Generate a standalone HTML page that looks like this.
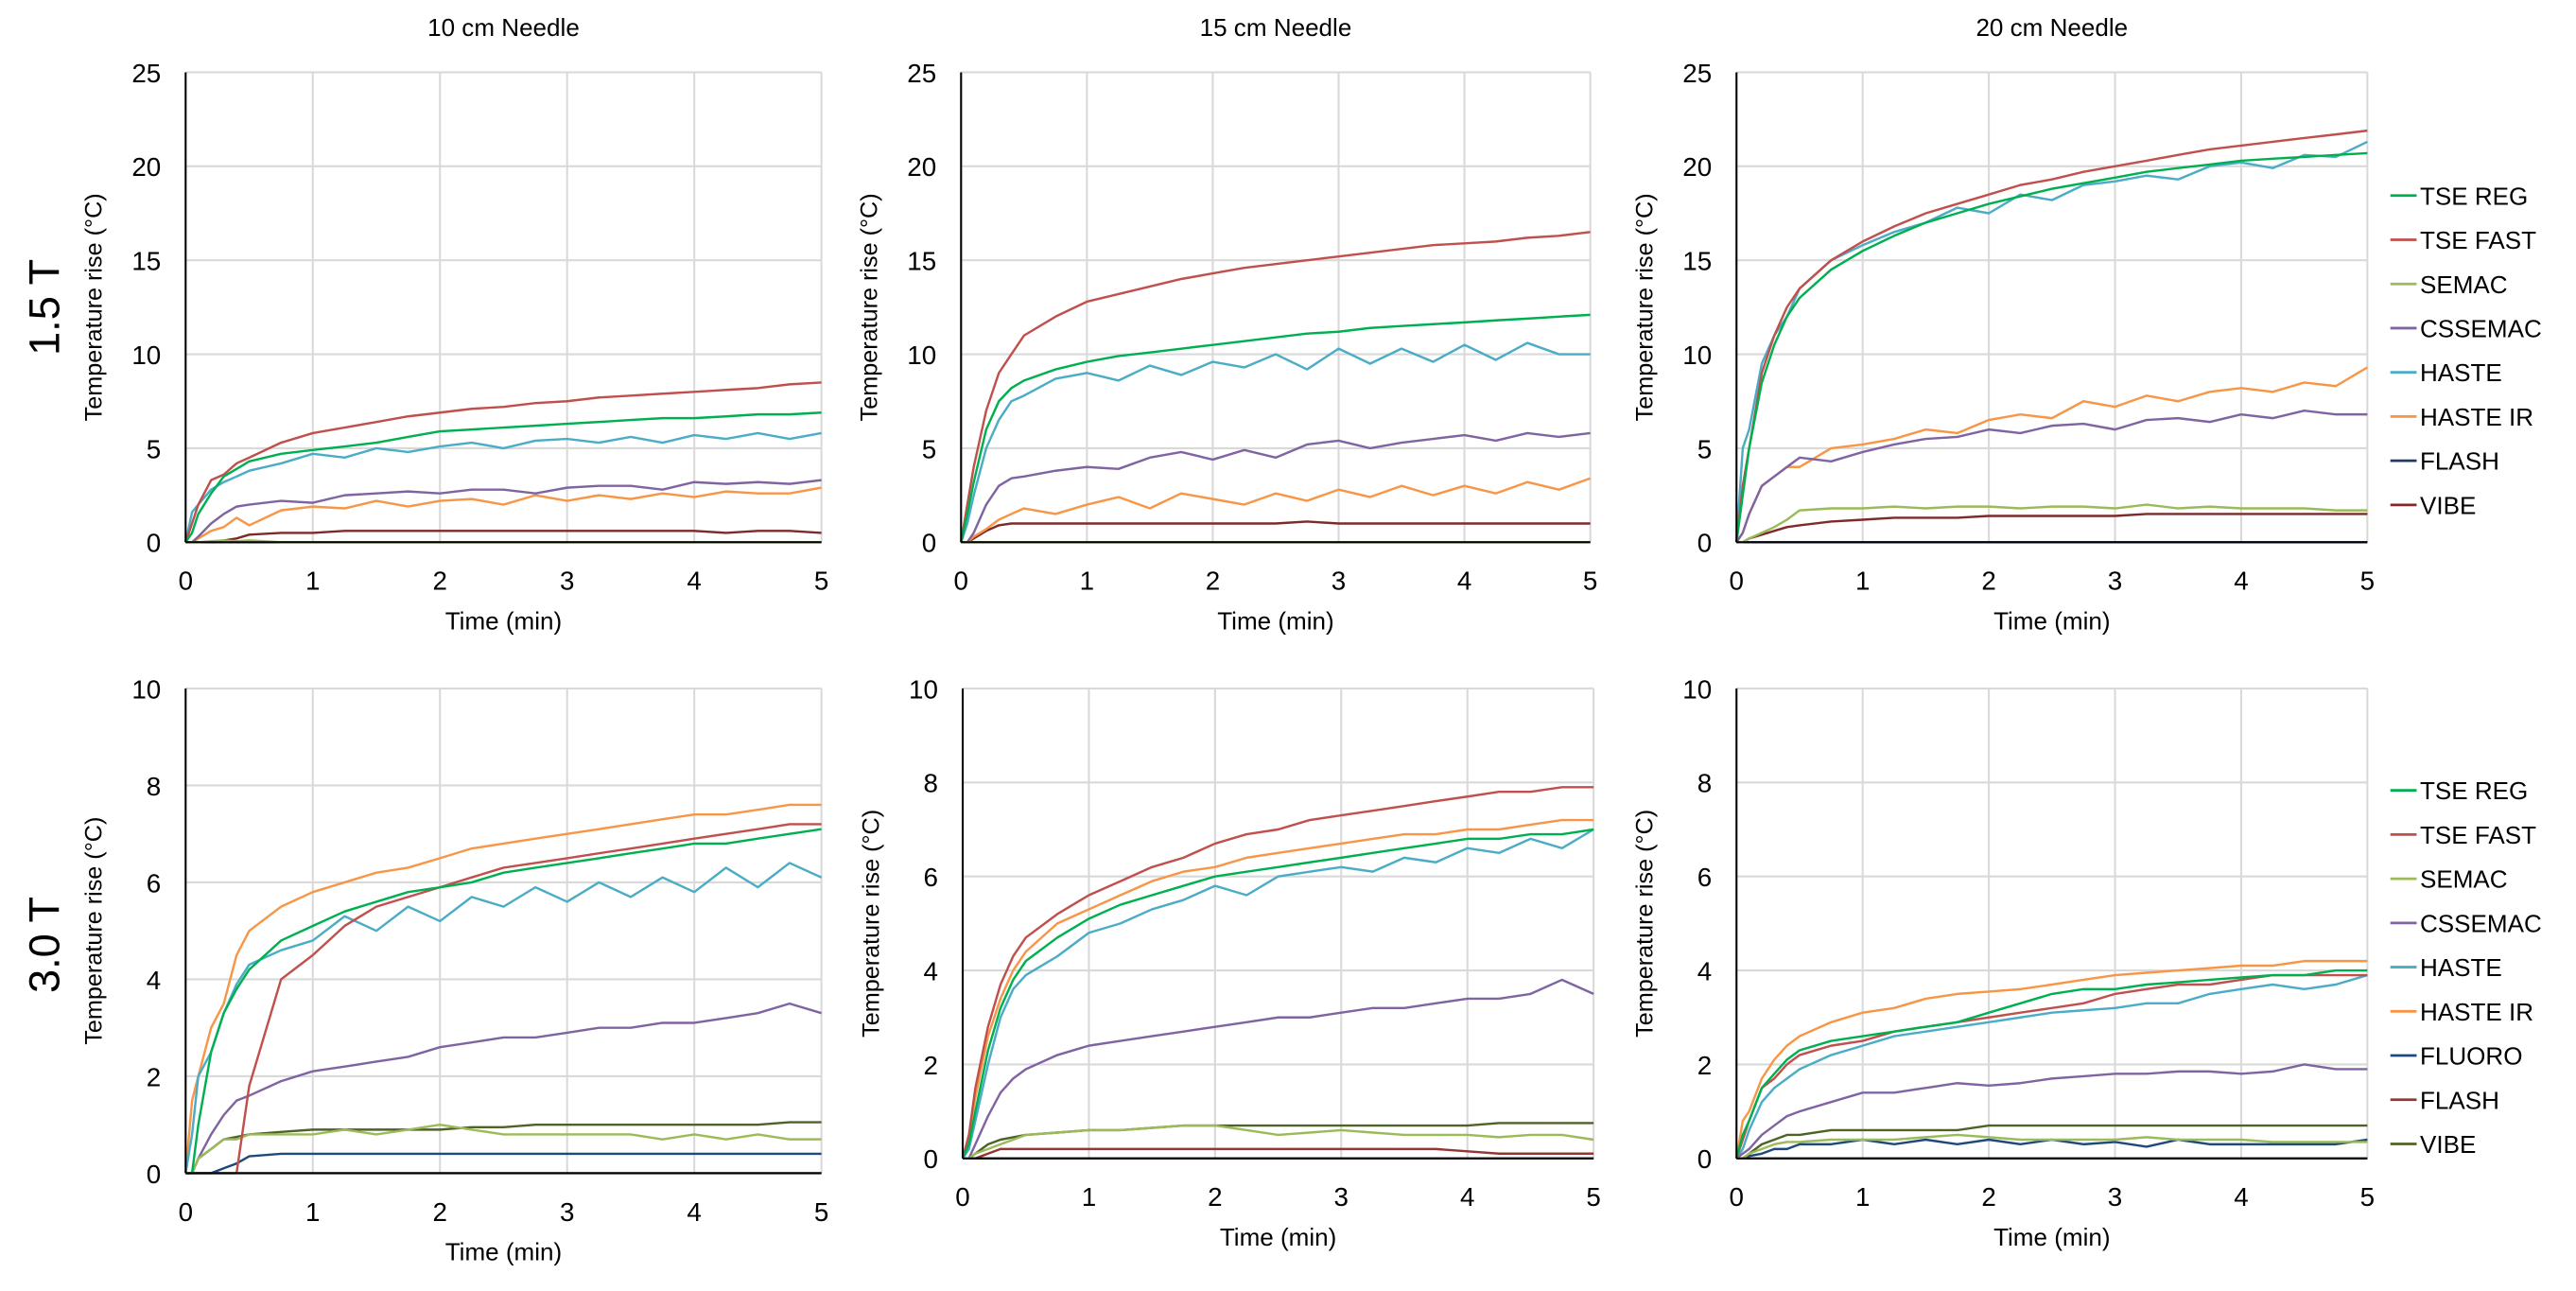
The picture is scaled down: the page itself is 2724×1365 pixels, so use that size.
<!DOCTYPE html>
<html><head><meta charset="utf-8"><style>
html,body{margin:0;padding:0;background:#fff;}
svg{display:block;font-family:"Liberation Sans",sans-serif;}
</style></head><body>
<svg id="fig" width="2724" height="1365" viewBox="0 0 1568 785.7" preserveAspectRatio="none" xmlns="http://www.w3.org/2000/svg"></svg>
<script>
const times=[0,0.05,0.1,0.2,0.3,0.4,0.5,0.75,1,1.25,1.5,1.75,2,2.25,2.5,2.75,3,3.25,3.5,3.75,4,4.25,4.5,4.75,5];
const xTicks=[0,1,2,3,4,5];
const yTicks1=[0,5,10,15,20,25];
const yTicks2=[0,2,4,6,8,10];
const names1=["TSE REG","TSE FAST","SEMAC","CSSEMAC","HASTE","HASTE IR","FLASH","VIBE"];
const names2=["TSE REG","TSE FAST","SEMAC","CSSEMAC","HASTE","HASTE IR","FLUORO","FLASH","VIBE"];
const colors1={"TSE REG":"#00b050","TSE FAST":"#c0504d","SEMAC":"#9bbb59","CSSEMAC":"#8064a2","HASTE":"#4bacc6","HASTE IR":"#f79646","FLASH":"#243a5e","VIBE":"#7f2a2a"};
const colors2={"TSE REG":"#00b050","TSE FAST":"#c0504d","SEMAC":"#9bbb59","CSSEMAC":"#8064a2","HASTE":"#4bacc6","HASTE IR":"#f79646","FLUORO":"#1f497d","FLASH":"#943634","VIBE":"#4f6228"};
const Z=times.map(()=>0);
const pA={"TSE REG":[0,0.5,1.5,2.6,3.5,3.9,4.3,4.7,4.9,5.1,5.3,5.6,5.9,6.0,6.1,6.2,6.3,6.4,6.5,6.6,6.6,6.7,6.8,6.8,6.9],
"TSE FAST":[0,1,2,3.3,3.6,4.2,4.5,5.3,5.8,6.1,6.4,6.7,6.9,7.1,7.2,7.4,7.5,7.7,7.8,7.9,8.0,8.1,8.2,8.4,8.5],
"SEMAC":[0,0,0,0.05,0.1,0.05,0.1,0,0,0,0,0,0,0,0,0,0,0,0,0,0,0,0,0,0],
"CSSEMAC":[0,0,0.3,1.0,1.5,1.9,2.0,2.2,2.1,2.5,2.6,2.7,2.6,2.8,2.8,2.6,2.9,3.0,3.0,2.8,3.2,3.1,3.2,3.1,3.3],
"HASTE":[0,1.6,2,2.8,3.2,3.5,3.8,4.2,4.7,4.5,5.0,4.8,5.1,5.3,5.0,5.4,5.5,5.3,5.6,5.3,5.7,5.5,5.8,5.5,5.8],
"HASTE IR":[0,0,0.2,0.6,0.8,1.3,0.9,1.7,1.9,1.8,2.2,1.9,2.2,2.3,2.0,2.5,2.2,2.5,2.3,2.6,2.4,2.7,2.6,2.6,2.9],
"FLASH":Z,
"VIBE":[0,0,0,0,0.1,0.2,0.4,0.5,0.5,0.6,0.6,0.6,0.6,0.6,0.6,0.6,0.6,0.6,0.6,0.6,0.6,0.5,0.6,0.6,0.5]};
const pB={"TSE REG":[0,1.5,3.2,6,7.5,8.2,8.6,9.2,9.6,9.9,10.1,10.3,10.5,10.7,10.9,11.1,11.2,11.4,11.5,11.6,11.7,11.8,11.9,12,12.1],
"TSE FAST":[0,2,4,7,9,10,11,12,12.8,13.2,13.6,14,14.3,14.6,14.8,15,15.2,15.4,15.6,15.8,15.9,16,16.2,16.3,16.5],
"SEMAC":Z,
"CSSEMAC":[0,0,0.5,2,3,3.4,3.5,3.8,4,3.9,4.5,4.8,4.4,4.9,4.5,5.2,5.4,5.0,5.3,5.5,5.7,5.4,5.8,5.6,5.8],
"HASTE":[0,1,2.5,5,6.5,7.5,7.8,8.7,9,8.6,9.4,8.9,9.6,9.3,10,9.2,10.3,9.5,10.3,9.6,10.5,9.7,10.6,10,10],
"HASTE IR":[0,0,0.3,0.7,1.2,1.5,1.8,1.5,2.0,2.4,1.8,2.6,2.3,2.0,2.6,2.2,2.8,2.4,3.0,2.5,3.0,2.6,3.2,2.8,3.4],
"FLASH":Z,
"VIBE":[0,0,0.2,0.6,0.9,1,1,1,1,1,1,1,1,1,1,1.1,1,1,1,1,1,1,1,1,1]};
const pC={"TSE REG":[0,2.5,5,8.5,10.5,12,13,14.5,15.5,16.3,17,17.5,18,18.4,18.8,19.1,19.4,19.7,19.9,20.1,20.3,20.4,20.5,20.6,20.7],
"TSE FAST":[0,3,5,9,11,12.5,13.5,15,16,16.8,17.5,18,18.5,19,19.3,19.7,20,20.3,20.6,20.9,21.1,21.3,21.5,21.7,21.9],
"SEMAC":[0,0,0.2,0.5,0.8,1.2,1.7,1.8,1.8,1.9,1.8,1.9,1.9,1.8,1.9,1.9,1.8,2,1.8,1.9,1.8,1.8,1.8,1.7,1.7],
"CSSEMAC":[0,0.5,1.5,3,3.5,4,4.5,4.3,4.8,5.2,5.5,5.6,6,5.8,6.2,6.3,6,6.5,6.6,6.4,6.8,6.6,7,6.8,6.8],
"HASTE":[0,5,6,9.5,11,12,13.5,15,15.8,16.5,17,17.8,17.5,18.5,18.2,19,19.2,19.5,19.3,20,20.2,19.9,20.6,20.5,21.3],
"HASTE IR":[0,0.5,1.5,3,3.5,4,4,5,5.2,5.5,6,5.8,6.5,6.8,6.6,7.5,7.2,7.8,7.5,8,8.2,8.0,8.5,8.3,9.3],
"FLASH":Z,
"VIBE":[0,0,0.2,0.4,0.6,0.8,0.9,1.1,1.2,1.3,1.3,1.3,1.4,1.4,1.4,1.4,1.4,1.5,1.5,1.5,1.5,1.5,1.5,1.5,1.5]};
const pD={"TSE REG":[0,0,1,2.5,3.3,3.8,4.2,4.8,5.1,5.4,5.6,5.8,5.9,6.0,6.2,6.3,6.4,6.5,6.6,6.7,6.8,6.8,6.9,7,7.1],
"TSE FAST":[0,0,0,0,0,0,1.8,4,4.5,5.1,5.5,5.7,5.9,6.1,6.3,6.4,6.5,6.6,6.7,6.8,6.9,7.0,7.1,7.2,7.2],
"SEMAC":[0,0,0.3,0.5,0.7,0.7,0.8,0.8,0.8,0.9,0.8,0.9,1,0.9,0.8,0.8,0.8,0.8,0.8,0.7,0.8,0.7,0.8,0.7,0.7],
"CSSEMAC":[0,0,0.3,0.8,1.2,1.5,1.6,1.9,2.1,2.2,2.3,2.4,2.6,2.7,2.8,2.8,2.9,3.0,3.0,3.1,3.1,3.2,3.3,3.5,3.3],
"HASTE":[0,0.8,2,2.5,3.3,3.9,4.3,4.6,4.8,5.3,5,5.5,5.2,5.7,5.5,5.9,5.6,6,5.7,6.1,5.8,6.3,5.9,6.4,6.1],
"HASTE IR":[0,1.5,2,3,3.5,4.5,5,5.5,5.8,6,6.2,6.3,6.5,6.7,6.8,6.9,7,7.1,7.2,7.3,7.4,7.4,7.5,7.6,7.6],
"FLUORO":[0,0,0,0,0.1,0.2,0.35,0.4,0.4,0.4,0.4,0.4,0.4,0.4,0.4,0.4,0.4,0.4,0.4,0.4,0.4,0.4,0.4,0.4,0.4],
"FLASH":Z,
"VIBE":[0,0,0.3,0.5,0.7,0.75,0.8,0.85,0.9,0.9,0.9,0.9,0.9,0.95,0.95,1,1,1,1,1,1,1,1,1.05,1.05]};
const pE={"TSE REG":[0,0.3,1,2.3,3.2,3.8,4.2,4.7,5.1,5.4,5.6,5.8,6.0,6.1,6.2,6.3,6.4,6.5,6.6,6.7,6.8,6.8,6.9,6.9,7.0],
"TSE FAST":[0,0.5,1.5,2.8,3.7,4.3,4.7,5.2,5.6,5.9,6.2,6.4,6.7,6.9,7.0,7.2,7.3,7.4,7.5,7.6,7.7,7.8,7.8,7.9,7.9],
"SEMAC":[0,0,0.1,0.2,0.3,0.4,0.5,0.55,0.6,0.6,0.65,0.7,0.7,0.6,0.5,0.55,0.6,0.55,0.5,0.5,0.5,0.45,0.5,0.5,0.4],
"CSSEMAC":[0,0,0.3,0.9,1.4,1.7,1.9,2.2,2.4,2.5,2.6,2.7,2.8,2.9,3.0,3.0,3.1,3.2,3.2,3.3,3.4,3.4,3.5,3.8,3.5],
"HASTE":[0,0.2,0.8,2,3,3.6,3.9,4.3,4.8,5,5.3,5.5,5.8,5.6,6,6.1,6.2,6.1,6.4,6.3,6.6,6.5,6.8,6.6,7],
"HASTE IR":[0,0.5,1.3,2.6,3.4,4,4.4,5,5.3,5.6,5.9,6.1,6.2,6.4,6.5,6.6,6.7,6.8,6.9,6.9,7.0,7.0,7.1,7.2,7.2],
"FLUORO":Z,
"FLASH":[0,0,0,0.1,0.2,0.2,0.2,0.2,0.2,0.2,0.2,0.2,0.2,0.2,0.2,0.2,0.2,0.2,0.2,0.2,0.15,0.1,0.1,0.1,0.1],
"VIBE":[0,0,0.1,0.3,0.4,0.45,0.5,0.55,0.6,0.6,0.65,0.7,0.7,0.7,0.7,0.7,0.7,0.7,0.7,0.7,0.7,0.75,0.75,0.75,0.75]};
const pF={"TSE REG":[0,0.5,0.8,1.5,1.8,2.1,2.3,2.5,2.6,2.7,2.8,2.9,3.1,3.3,3.5,3.6,3.6,3.7,3.75,3.8,3.85,3.9,3.9,4.0,4.0],
"TSE FAST":[0,0.4,0.8,1.5,1.7,2.0,2.2,2.4,2.5,2.7,2.8,2.9,3.0,3.1,3.2,3.3,3.5,3.6,3.7,3.7,3.8,3.9,3.9,3.9,3.9],
"SEMAC":[0,0,0.1,0.2,0.3,0.35,0.35,0.4,0.4,0.4,0.45,0.5,0.45,0.4,0.4,0.4,0.4,0.45,0.4,0.4,0.4,0.35,0.35,0.35,0.35],
"CSSEMAC":[0,0.1,0.2,0.5,0.7,0.9,1.0,1.2,1.4,1.4,1.5,1.6,1.55,1.6,1.7,1.75,1.8,1.8,1.85,1.85,1.8,1.85,2.0,1.9,1.9],
"HASTE":[0,0.2,0.6,1.2,1.5,1.7,1.9,2.2,2.4,2.6,2.7,2.8,2.9,3.0,3.1,3.15,3.2,3.3,3.3,3.5,3.6,3.7,3.6,3.7,3.9],
"HASTE IR":[0,0.8,1,1.7,2.1,2.4,2.6,2.9,3.1,3.2,3.4,3.5,3.55,3.6,3.7,3.8,3.9,3.95,4.0,4.05,4.1,4.1,4.2,4.2,4.2],
"FLUORO":[0,0,0.05,0.1,0.2,0.2,0.3,0.3,0.4,0.3,0.4,0.3,0.4,0.3,0.4,0.3,0.35,0.25,0.4,0.3,0.3,0.3,0.3,0.3,0.4],
"FLASH":Z,
"VIBE":[0,0,0.1,0.3,0.4,0.5,0.5,0.6,0.6,0.6,0.6,0.6,0.7,0.7,0.7,0.7,0.7,0.7,0.7,0.7,0.7,0.7,0.7,0.7,0.7]};

const NS="http://www.w3.org/2000/svg";
const svg=document.getElementById('fig');
function mk(tag,attrs,parent,text){const e=document.createElementNS(NS,tag);for(const k in attrs)e.setAttribute(k,attrs[k]);if(text!==undefined)e.textContent=text;(parent||svg).appendChild(e);return e;}

const panels=[
 {id:"a",data:pA,names:names1,colors:colors1,x0:113,x1:500,y0:44,y1:330,ymax:25,ticks:yTicks1,title:"10 cm Needle"},
 {id:"b",data:pB,names:names1,colors:colors1,x0:585,x1:968,y0:44,y1:330,ymax:25,ticks:yTicks1,title:"15 cm Needle"},
 {id:"c",data:pC,names:names1,colors:colors1,x0:1057,x1:1441,y0:44,y1:330,ymax:25,ticks:yTicks1,title:"20 cm Needle"},
 {id:"d",data:pD,names:names2,colors:colors2,x0:113,x1:500,y0:419,y1:714,ymax:10,ticks:yTicks2},
 {id:"e",data:pE,names:names2,colors:colors2,x0:586,x1:970,y0:419,y1:705,ymax:10,ticks:yTicks2},
 {id:"f",data:pF,names:names2,colors:colors2,x0:1057,x1:1441,y0:419,y1:705,ymax:10,ticks:yTicks2}
];
panels.forEach(p=>{
  const g=mk('g',{});
  
  
  const X=v=>p.x0+(p.x1-p.x0)*v/5;
  const Y=v=>p.y1-(p.y1-p.y0)*v/p.ymax;
  if(p.title){const t=mk('text',{x:(p.x0+p.x1)/2,y:22,'font-size':15,'text-anchor':'middle',fill:'#000'},g,p.title);
    }
  p.ticks.forEach(v=>{
    if(v>0){const l=mk('line',{x1:p.x0,x2:p.x1,y1:Y(v),y2:Y(v),stroke:'#d9d9d9','stroke-width':1.2},g);
      }
    const t=mk('text',{x:p.x0-15,y:Y(v)+6,'font-size':16,'text-anchor':'end',fill:'#000'},g,v);
    
  });
  xTicks.forEach(v=>{
    if(v>0){const l=mk('line',{x1:X(v),x2:X(v),y1:p.y0,y2:p.y1,stroke:'#d9d9d9','stroke-width':1.2},g);
      }
    const t=mk('text',{x:X(v),y:p.y1+29,'font-size':16,'text-anchor':'middle',fill:'#000'},g,v);
    
  });
  const xt=mk('text',{x:(p.x0+p.x1)/2,y:p.y1+53,'font-size':15,'text-anchor':'middle',fill:'#000'},g,'Time (min)');
  
  const cy=(p.y0+p.y1)/2;
  const yt=mk('text',{x:p.x0-51,y:cy,'font-size':14.5,'text-anchor':'middle',fill:'#000',transform:`rotate(-90 ${p.x0-51} ${cy})`},g,'Temperature rise (°C)');
  
  for(let i=p.names.length-1;i>=0;i--){
    const n=p.names[i];
    const pts=times.map((t,j)=>X(t).toFixed(1)+','+Y(p.data[n][j]).toFixed(1)).join(' ');
    const pl=mk('polyline',{points:pts,fill:'none',stroke:p.colors[n],'stroke-width':1.4,'stroke-linejoin':'round'},g);
    
    
  }
  const ax=mk('line',{x1:p.x0,x2:p.x0,y1:p.y0,y2:p.y1,stroke:'#000','stroke-width':1.2},g);
  
  const bx=mk('line',{x1:p.x0,x2:p.x1,y1:p.y1,y2:p.y1,stroke:'#000','stroke-width':1.2},g);
  
});
function legend(names,colors,y0,dy,id){
  const g=mk('g',{});
  
  names.forEach((n,i)=>{
    const y=y0+i*dy;
    const e=mk('g',{},g);
    
    mk('line',{x1:1455,x2:1471,y1:y,y2:y,stroke:colors[n],'stroke-width':1.6},e);
    mk('text',{x:1473,y:y+5.5,'font-size':15,fill:'#000'},e,n);
  });
}
legend(names1,colors1,119,26.9,'row1');
legend(names2,colors2,481,26.9,'row2');
const r1=mk('text',{x:36,y:187,'font-size':26,'text-anchor':'middle',fill:'#000',transform:'rotate(-90 36 187)'},svg,'1.5 T');

const r2=mk('text',{x:36,y:575,'font-size':26,'text-anchor':'middle',fill:'#000',transform:'rotate(-90 36 575)'},svg,'3.0 T');

</script>
</body></html>
